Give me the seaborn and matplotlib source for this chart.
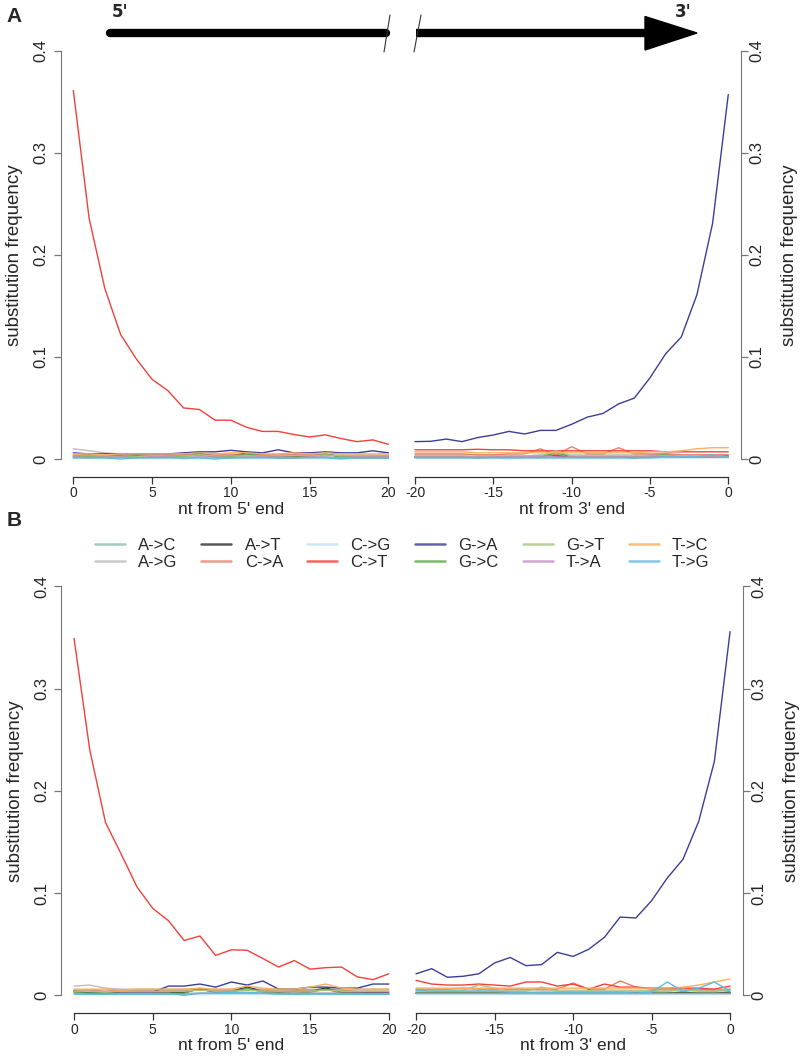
import matplotlib
matplotlib.use('Agg')
import matplotlib.pyplot as plt
import seaborn as sns
import pandas as pd
from matplotlib.lines import Line2D
from matplotlib.patches import Polygon

# ------------------------------------------------------------------
# data: substitution frequency by position, 5' side (0..20) and 3' side (-20..0)
# ------------------------------------------------------------------
subs = ['A->C', 'A->G', 'A->T', 'C->A', 'C->G', 'C->T',
        'G->A', 'G->C', 'G->T', 'T->A', 'T->C', 'T->G']
sub_colors = ['#8ABFB0', '#BDBDBD', '#2E2E2E', '#E8806A', '#BFE3F2', '#F2403A',
              '#3D3D99', '#58A843', '#A8C47E', '#C390C6', '#F7B060', '#5CBCE0']

pos5 = list(range(0, 21))
pos3 = list(range(-20, 1))

# panel A, 5' end
a5_ac = [0.002, 0.002, 0.001, 0.002, 0.002, 0.001, 0.002, 0.002, 0.002, 0.001, 0.002, 0.002, 0.002, 0.001, 0.002, 0.002, 0.002, 0.001, 0.002, 0.002, 0.001]
a5_ag = [0.010, 0.008, 0.006, 0.005, 0.005, 0.005, 0.005, 0.005, 0.005, 0.005, 0.005, 0.004, 0.004, 0.004, 0.004, 0.004, 0.004, 0.004, 0.004, 0.004, 0.004]
a5_at = [0.003, 0.003, 0.003, 0.003, 0.003, 0.003, 0.003, 0.004, 0.006, 0.003, 0.003, 0.006, 0.004, 0.002, 0.002, 0.003, 0.005, 0.002, 0.002, 0.002, 0.003]
a5_ca = [0.004, 0.004, 0.003, 0.003, 0.004, 0.003, 0.004, 0.004, 0.004, 0.004, 0.004, 0.004, 0.004, 0.004, 0.004, 0.004, 0.004, 0.003, 0.003, 0.003, 0.003]
a5_cg = [0.001, 0.001, 0.001, 0.001, 0.001, 0.001, 0.001, 0.000, 0.001, 0.001, 0.001, 0.001, 0.001, 0.001, 0.001, 0.001, 0.001, 0.001, 0.001, 0.001, 0.001]
a5_ct = [0.361, 0.236, 0.167, 0.122, 0.098, 0.078, 0.067, 0.050, 0.0485, 0.038, 0.038, 0.031, 0.027, 0.027, 0.024, 0.0216, 0.0236, 0.020, 0.017, 0.0187, 0.0144]
a5_ga = [0.006, 0.005, 0.005, 0.005, 0.005, 0.005, 0.005, 0.006, 0.007, 0.007, 0.0085, 0.007, 0.006, 0.009, 0.006, 0.006, 0.007, 0.006, 0.006, 0.008, 0.006]
a5_gc = [0.002, 0.002, 0.002, 0.002, 0.002, 0.002, 0.002, 0.003, 0.004, 0.002, 0.002, 0.005, 0.003, 0.001, 0.001, 0.002, 0.005, 0.002, 0.001, 0.001, 0.001]
a5_gt = [0.003, 0.003, 0.003, 0.002, 0.002, 0.003, 0.003, 0.003, 0.004, 0.003, 0.003, 0.003, 0.003, 0.003, 0.003, 0.003, 0.004, 0.003, 0.003, 0.003, 0.003]
a5_ta = [0.002, 0.001, 0.002, 0.002, 0.001, 0.002, 0.002, 0.001, 0.002, 0.002, 0.001, 0.002, 0.002, 0.002, 0.001, 0.002, 0.002, 0.001, 0.002, 0.002, 0.002]
a5_tc = [0.005, 0.005, 0.004, 0.005, 0.005, 0.005, 0.005, 0.005, 0.006, 0.005, 0.006, 0.006, 0.005, 0.005, 0.006, 0.005, 0.006, 0.005, 0.005, 0.005, 0.005]
a5_tg = [0.001, 0.001, 0.001, 0.000, 0.001, 0.001, 0.001, 0.001, 0.001, 0.000, 0.001, 0.001, 0.001, 0.001, 0.001, 0.001, 0.001, 0.000, 0.001, 0.001, 0.001]

# panel A, 3' end
a3_ac = [0.002, 0.002, 0.002, 0.001, 0.002, 0.002, 0.002, 0.002, 0.001, 0.002, 0.002, 0.002, 0.002, 0.002, 0.001, 0.002, 0.002, 0.002, 0.002, 0.002, 0.002]
a3_ag = [0.004, 0.004, 0.004, 0.004, 0.004, 0.004, 0.004, 0.003, 0.004, 0.004, 0.004, 0.004, 0.004, 0.004, 0.004, 0.004, 0.005, 0.004, 0.004, 0.004, 0.004]
a3_at = [0.002, 0.002, 0.002, 0.002, 0.002, 0.002, 0.002, 0.002, 0.002, 0.003, 0.002, 0.002, 0.002, 0.002, 0.002, 0.002, 0.002, 0.002, 0.002, 0.002, 0.003]
a3_ca = [0.005, 0.005, 0.005, 0.005, 0.004, 0.004, 0.005, 0.005, 0.010, 0.004, 0.012, 0.005, 0.005, 0.011, 0.005, 0.005, 0.005, 0.004, 0.004, 0.004, 0.004]
a3_cg = [0.001, 0.001, 0.001, 0.001, 0.001, 0.001, 0.000, 0.001, 0.001, 0.001, 0.001, 0.001, 0.001, 0.001, 0.001, 0.001, 0.001, 0.001, 0.001, 0.001, 0.001]
a3_ct = [0.009, 0.009, 0.009, 0.009, 0.0095, 0.009, 0.009, 0.008, 0.008, 0.008, 0.008, 0.008, 0.008, 0.008, 0.008, 0.008, 0.007, 0.007, 0.007, 0.007, 0.007]
a3_ga = [0.017, 0.0173, 0.0195, 0.017, 0.021, 0.0235, 0.027, 0.0245, 0.028, 0.028, 0.034, 0.041, 0.0446, 0.054, 0.0596, 0.0795, 0.103, 0.1195, 0.161, 0.231, 0.357]
a3_gc = [0.002, 0.002, 0.002, 0.002, 0.001, 0.002, 0.002, 0.002, 0.002, 0.006, 0.002, 0.002, 0.002, 0.002, 0.001, 0.003, 0.004, 0.002, 0.002, 0.002, 0.002]
a3_gt = [0.003, 0.003, 0.003, 0.003, 0.002, 0.003, 0.003, 0.003, 0.003, 0.008, 0.003, 0.003, 0.003, 0.003, 0.003, 0.003, 0.003, 0.003, 0.003, 0.003, 0.002]
a3_ta = [0.002, 0.002, 0.002, 0.002, 0.002, 0.002, 0.002, 0.002, 0.003, 0.002, 0.002, 0.002, 0.002, 0.002, 0.002, 0.002, 0.002, 0.002, 0.002, 0.002, 0.002]
a3_tc = [0.007, 0.007, 0.007, 0.007, 0.006, 0.006, 0.006, 0.006, 0.006, 0.006, 0.006, 0.006, 0.006, 0.006, 0.006, 0.007, 0.007, 0.008, 0.010, 0.011, 0.011]
a3_tg = [0.001, 0.001, 0.001, 0.001, 0.001, 0.001, 0.001, 0.001, 0.001, 0.001, 0.001, 0.001, 0.001, 0.001, 0.001, 0.001, 0.002, 0.002, 0.002, 0.004, 0.002]

# panel B, 5' end
b5_ac = [0.002, 0.002, 0.002, 0.002, 0.002, 0.002, 0.002, 0.002, 0.002, 0.002, 0.003, 0.002, 0.002, 0.002, 0.002, 0.002, 0.002, 0.002, 0.002, 0.002, 0.002]
b5_ag = [0.009, 0.010, 0.007, 0.006, 0.006, 0.006, 0.006, 0.006, 0.006, 0.006, 0.006, 0.006, 0.006, 0.006, 0.006, 0.006, 0.006, 0.006, 0.006, 0.006, 0.006]
b5_at = [0.004, 0.002, 0.002, 0.003, 0.003, 0.003, 0.003, 0.003, 0.006, 0.003, 0.004, 0.008, 0.004, 0.003, 0.004, 0.004, 0.007, 0.003, 0.003, 0.003, 0.003]
b5_ca = [0.005, 0.005, 0.004, 0.005, 0.005, 0.005, 0.005, 0.005, 0.005, 0.005, 0.005, 0.005, 0.005, 0.005, 0.005, 0.005, 0.005, 0.005, 0.004, 0.004, 0.004]
b5_cg = [0.001, 0.001, 0.001, 0.001, 0.001, 0.001, 0.001, 0.001, 0.001, 0.001, 0.001, 0.001, 0.001, 0.001, 0.001, 0.001, 0.001, 0.001, 0.001, 0.001, 0.001]
b5_ct = [0.349, 0.240, 0.169, 0.138, 0.106, 0.085, 0.073, 0.0536, 0.058, 0.039, 0.0445, 0.044, 0.036, 0.0276, 0.034, 0.0256, 0.027, 0.0276, 0.018, 0.0153, 0.021]
b5_ga = [0.004, 0.002, 0.002, 0.002, 0.003, 0.003, 0.009, 0.009, 0.011, 0.008, 0.013, 0.010, 0.014, 0.006, 0.006, 0.008, 0.008, 0.007, 0.007, 0.011, 0.011]
b5_gc = [0.003, 0.002, 0.002, 0.002, 0.002, 0.002, 0.002, 0.002, 0.007, 0.003, 0.003, 0.007, 0.003, 0.002, 0.002, 0.003, 0.006, 0.002, 0.002, 0.001, 0.001]
b5_gt = [0.004, 0.004, 0.003, 0.004, 0.004, 0.004, 0.004, 0.004, 0.005, 0.004, 0.004, 0.005, 0.004, 0.004, 0.004, 0.004, 0.005, 0.004, 0.004, 0.004, 0.004]
b5_ta = [0.002, 0.001, 0.001, 0.002, 0.002, 0.002, 0.002, 0.000, 0.002, 0.002, 0.002, 0.002, 0.002, 0.002, 0.002, 0.002, 0.002, 0.002, 0.002, 0.002, 0.002]
b5_tc = [0.006, 0.006, 0.006, 0.005, 0.006, 0.006, 0.006, 0.006, 0.007, 0.006, 0.006, 0.009, 0.007, 0.006, 0.006, 0.008, 0.011, 0.007, 0.006, 0.006, 0.006]
b5_tg = [0.001, 0.001, 0.001, 0.001, 0.001, 0.001, 0.001, 0.001, 0.002, 0.002, 0.003, 0.003, 0.002, 0.001, 0.001, 0.001, 0.001, 0.001, 0.001, 0.001, 0.001]

# panel B, 3' end
b3_ac = [0.003, 0.003, 0.003, 0.003, 0.003, 0.003, 0.003, 0.002, 0.003, 0.003, 0.003, 0.003, 0.003, 0.003, 0.003, 0.003, 0.003, 0.003, 0.003, 0.003, 0.003]
b3_ag = [0.005, 0.005, 0.005, 0.005, 0.005, 0.005, 0.005, 0.005, 0.005, 0.005, 0.005, 0.005, 0.005, 0.005, 0.005, 0.005, 0.005, 0.005, 0.005, 0.004, 0.005]
b3_at = [0.002, 0.002, 0.002, 0.002, 0.002, 0.002, 0.002, 0.002, 0.002, 0.002, 0.002, 0.002, 0.002, 0.002, 0.002, 0.002, 0.002, 0.003, 0.002, 0.002, 0.003]
b3_ca = [0.006, 0.006, 0.006, 0.007, 0.006, 0.006, 0.006, 0.006, 0.006, 0.006, 0.012, 0.006, 0.006, 0.014, 0.008, 0.006, 0.006, 0.006, 0.006, 0.005, 0.006]
b3_cg = [0.001, 0.001, 0.001, 0.001, 0.001, 0.001, 0.001, 0.001, 0.001, 0.001, 0.001, 0.001, 0.001, 0.001, 0.001, 0.001, 0.001, 0.001, 0.001, 0.001, 0.001]
b3_ct = [0.0146, 0.011, 0.010, 0.010, 0.011, 0.010, 0.009, 0.013, 0.013, 0.009, 0.011, 0.006, 0.011, 0.008, 0.008, 0.007, 0.007, 0.007, 0.007, 0.006, 0.009]
b3_ga = [0.021, 0.026, 0.0176, 0.0186, 0.021, 0.0316, 0.037, 0.029, 0.030, 0.042, 0.038, 0.045, 0.0567, 0.0765, 0.0756, 0.0925, 0.1147, 0.133, 0.170, 0.2287, 0.3557]
b3_gc = [0.002, 0.002, 0.002, 0.002, 0.002, 0.002, 0.002, 0.002, 0.002, 0.002, 0.002, 0.002, 0.002, 0.002, 0.002, 0.004, 0.002, 0.002, 0.002, 0.002, 0.002]
b3_gt = [0.004, 0.004, 0.004, 0.005, 0.010, 0.007, 0.004, 0.004, 0.008, 0.004, 0.004, 0.004, 0.004, 0.004, 0.004, 0.004, 0.004, 0.006, 0.004, 0.004, 0.006]
b3_ta = [0.002, 0.002, 0.002, 0.002, 0.002, 0.002, 0.002, 0.002, 0.002, 0.002, 0.002, 0.002, 0.002, 0.002, 0.002, 0.002, 0.002, 0.002, 0.002, 0.002, 0.002]
b3_tc = [0.007, 0.007, 0.007, 0.007, 0.007, 0.007, 0.007, 0.007, 0.007, 0.007, 0.007, 0.007, 0.007, 0.007, 0.007, 0.007, 0.007, 0.008, 0.010, 0.013, 0.016]
b3_tg = [0.005, 0.004, 0.004, 0.004, 0.004, 0.004, 0.003, 0.003, 0.003, 0.003, 0.003, 0.003, 0.003, 0.003, 0.002, 0.003, 0.013, 0.004, 0.007, 0.013, 0.004]

yticks = [0, 0.1, 0.2, 0.3, 0.4]
ytick_labels = ['0', '0.1', '0.2', '0.3', '0.4']

# ------------------------------------------------------------------
sns.set_style('ticks')
plt.rcParams['font.family'] = ['Liberation Sans', 'DejaVu Sans']
palette = dict(zip(subs, sub_colors))


def long_table(pos, series):
    rows = []
    for name, vals in zip(subs, series):
        for p, v in zip(pos, vals):
            rows.append((p, name, v))
    return pd.DataFrame(rows, columns=['pos', 'sub', 'freq'])


def draw_side(ax, pos, series, side, xlabel, xtick_size):
    df = long_table(pos, series)
    sns.lineplot(data=df, x='pos', y='freq', hue='sub', hue_order=subs,
                 palette=palette, ax=ax, legend=False, errorbar=None,
                 linewidth=1.0)
    ax.set_xlim(min(pos) - 0.8, max(pos) + 0.8)
    ax.set_ylim(-0.016, 0.416)
    ax.set_xticks(pos[::5])
    ax.set_xticklabels([str(p) for p in pos[::5]], fontsize=xtick_size)
    ax.set_yticks(yticks)
    ax.set_yticklabels(ytick_labels, fontsize=12, rotation=90, va='center')
    ax.set_xlabel(xlabel, fontsize=12.5, labelpad=1)
    for s in ['top', 'left', 'right']:
        ax.spines[s].set_visible(False)
    ax.spines['bottom'].set_bounds(min(pos), max(pos))
    ax.spines['bottom'].set_position(('outward', 1))
    ax.tick_params(axis='x', length=5, width=0.9, pad=2, color='#333333')
    ax.tick_params(axis='y', length=5, width=0.9, color='#777777')
    if side == 'left':
        ax.spines['left'].set_visible(True)
        ax.spines['left'].set_bounds(0, 0.4)
        ax.spines['left'].set_color('#777777')
        ax.tick_params(axis='y', pad=4)
        ax.set_ylabel('substitution frequency', fontsize=13.5, labelpad=7)
    else:
        ax.spines['right'].set_visible(True)
        ax.spines['right'].set_bounds(0, 0.4)
        ax.spines['right'].set_color('#777777')
        ax.yaxis.tick_right()
        ax.yaxis.set_label_position('right')
        ax.tick_params(axis='y', pad=1.5)
        ax.set_ylabel('substitution frequency', fontsize=13.5, labelpad=12,
                      rotation=90)
    ax.spines['bottom'].set_color('#333333')
    ax.spines['bottom'].set_linewidth(0.9)


fig = plt.figure(figsize=(8, 10.56), dpi=100)

ax_a5 = fig.add_axes([0.0759, 0.5499, 0.4254, 0.4175])
ax_a3 = fig.add_axes([0.5031, 0.5499, 0.4229, 0.4175])
ax_b5 = fig.add_axes([0.0768, 0.0420, 0.4249, 0.4183])
ax_b3 = fig.add_axes([0.5043, 0.0420, 0.4240, 0.4183])

draw_side(ax_a5, pos5, [a5_ac, a5_ag, a5_at, a5_ca, a5_cg, a5_ct,
                        a5_ga, a5_gc, a5_gt, a5_ta, a5_tc, a5_tg],
          'left', "nt from 5' end", 12)
draw_side(ax_a3, pos3, [a3_ac, a3_ag, a3_at, a3_ca, a3_cg, a3_ct,
                        a3_ga, a3_gc, a3_gt, a3_ta, a3_tc, a3_tg],
          'right', "nt from 3' end", 12)
draw_side(ax_b5, pos5, [b5_ac, b5_ag, b5_at, b5_ca, b5_cg, b5_ct,
                        b5_ga, b5_gc, b5_gt, b5_ta, b5_tc, b5_tg],
          'left', "nt from 5' end", 12.5)
draw_side(ax_b3, pos3, [b3_ac, b3_ag, b3_at, b3_ca, b3_cg, b3_ct,
                        b3_ga, b3_gc, b3_gt, b3_ta, b3_tc, b3_tg],
          'right', "nt from 3' end", 12.5)

# legend between the panels
handles = [Line2D([], [], color=c, lw=1.8, alpha=0.8) for c in sub_colors]
fig.legend(handles, subs, ncol=6, loc='center', bbox_to_anchor=(0.5025, 0.4754),
           frameon=False, fontsize=12, handlelength=1.8, handletextpad=0.8,
           columnspacing=1.45, labelspacing=0.1, borderpad=0)

# overlay for the 5' -> 3' arrow and panel letters (pixel coordinates)
over = fig.add_axes([0, 0, 1, 1])
over.set_xlim(0, 800)
over.set_ylim(1056, 0)
over.axis('off')
over.plot([110, 386], [33, 33], color='black', lw=6, solid_capstyle='round')
over.plot([416, 648], [33, 33], color='black', lw=6, solid_capstyle='butt')
over.add_patch(Polygon([[645, 16.5], [697, 33], [645, 50]], closed=True,
                       color='black'))
over.plot([390, 384], [15, 52], color='#333333', lw=0.8)
over.plot([421, 414], [15, 52], color='#333333', lw=0.8)
over.text(112, 12, "5'", fontsize=12, fontweight='bold', ha='left', va='center',
          family='DejaVu Sans')
over.text(683, 12, "3'", fontsize=12, fontweight='bold', ha='center', va='center',
          family='DejaVu Sans')
over.text(14, 17, 'A', fontsize=15, fontweight='bold', ha='center', va='center')
over.text(14, 521, 'B', fontsize=15, fontweight='bold', ha='center', va='center')

fig.savefig('out.png', dpi=100)
